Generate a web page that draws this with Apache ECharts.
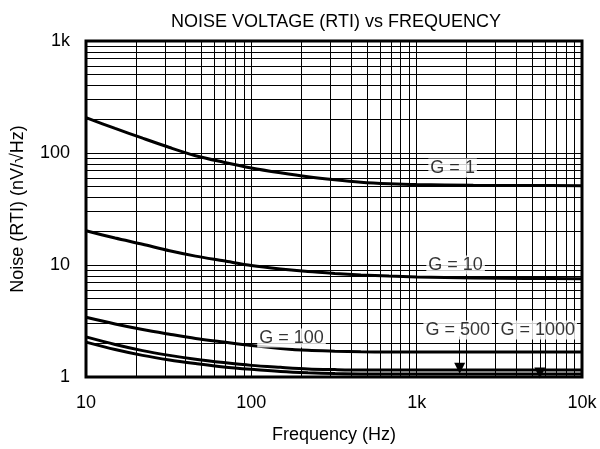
<!DOCTYPE html>
<html>
<head>
<meta charset="utf-8">
<script src="https://cdn.jsdelivr.net/npm/echarts@6/dist/echarts.min.js"></script>
<style>
  html, body { margin: 0; padding: 0; background: #fff; }
  #main { width: 600px; height: 449px; }
</style>
</head>
<body>
<div id="main"></div>
<script>
// frequency points (Hz)
const freq = [10, 15, 22, 32, 46, 68, 100, 150, 220, 320, 460, 680, 1000, 2200, 4600, 10000]
// noise RTI (nV/rtHz) per gain
const g1 = [206.6, 165.8, 135.6, 112.0, 94.6, 82.8, 73.6, 66.6, 61.3, 57.6, 54.9, 53.2, 52.2, 51.5, 51.2, 51.1]
const g10 = [20.2, 17.4, 15.3, 13.4, 12.0, 10.9, 9.9, 9.21, 8.73, 8.4, 8.14, 7.96, 7.82, 7.67, 7.59, 7.55]
const g100 = [3.41, 2.97, 2.65, 2.41, 2.21, 2.05, 1.91, 1.8, 1.73, 1.7, 1.68, 1.67, 1.67, 1.67, 1.67, 1.67]
const g500 = [2.28, 1.95, 1.72, 1.56, 1.44, 1.345, 1.27, 1.22, 1.18, 1.164, 1.155, 1.155, 1.155, 1.155, 1.155, 1.155]
const g1000 = [2.05, 1.76, 1.56, 1.42, 1.32, 1.23, 1.17, 1.12, 1.09, 1.072, 1.064, 1.064, 1.064, 1.064, 1.064, 1.064]

const xTickLabels = { 10: '10', 100: '100', 1000: '1k', 10000: '10k' }
const yTickLabels = { 1: '1', 10: '10', 100: '100', 1000: '1k' }

// curve labels
const gainLabels = ['G = 1', 'G = 10', 'G = 100', 'G = 500', 'G = 1000']
const labelFreq = [1650, 1720, 175, 1770, 5400]
const labelNoise = [73.5, 10, 2.23, 2.63, 2.63]

// arrows pointing to G=500 / G=1000
const arrowFreq = [1820, 5560]
const arrowFrom = [2.3, 2.3]
const arrowTo = [1.2, 1.085]

const font = 'Liberation Sans, Arial, sans-serif'

const chartDom = document.getElementById('main')
const myChart = echarts.init(chartDom)

const curve = (name, vals) => ({
  name: name,
  type: 'line',
  data: freq.map((f, i) => [f, vals[i]]),
  smooth: 0.3,
  symbol: 'none',
  lineStyle: { color: '#000', width: 3 },
  z: 5
})

const logAxis = (extra) => Object.assign({
  type: 'log',
  logBase: 10,
  axisLine: { show: false },
  axisTick: { show: false },
  splitLine: { show: true, lineStyle: { color: '#000', width: 1 } },
  minorTick: { show: false, splitNumber: 9 },
  minorSplitLine: { show: true, lineStyle: { color: '#000', width: 1 } },
  nameTextStyle: { color: '#000', fontSize: 18, fontFamily: font }
}, extra)

const option = {
  animation: false,
  backgroundColor: '#fff',
  title: {
    text: 'NOISE VOLTAGE (RTI) vs FREQUENCY',
    left: 331,
    textAlign: 'center',
    top: 8,
    textStyle: { color: '#000', fontSize: 18, fontWeight: 'normal', fontFamily: font }
  },
  grid: {
    left: 86, right: 18, top: 41, bottom: 72,
    show: true,
    borderColor: '#000',
    borderWidth: 3,
    backgroundColor: 'transparent'
  },
  xAxis: logAxis({
    min: 10,
    max: 10000,
    name: 'Frequency (Hz)',
    nameLocation: 'middle',
    nameGap: 49,
    axisLabel: {
      margin: 17,
      color: '#000',
      fontSize: 18,
      fontFamily: font,
      formatter: v => xTickLabels[v] || ''
    }
  }),
  yAxis: logAxis({
    min: 1,
    max: 1000,
    name: 'Noise (RTI) (nV/\u221AHz)',
    nameLocation: 'middle',
    nameGap: 59,
    axisLabel: {
      margin: 16,
      color: '#000',
      fontSize: 18,
      fontFamily: font,
      formatter: v => yTickLabels[v] || ''
    }
  }),
  series: [
    curve('G = 1', g1),
    curve('G = 10', g10),
    curve('G = 100', g100),
    curve('G = 500', g500),
    curve('G = 1000', g1000),
    {
      type: 'scatter',
      symbolSize: 1,
      itemStyle: { color: 'transparent' },
      silent: true,
      z: 10,
      data: gainLabels.map((t, i) => ({ name: t, value: [labelFreq[i], labelNoise[i]] })),
      label: {
        show: true,
        position: 'inside',
        formatter: p => p.name,
        color: '#000',
        fontSize: 18,
        fontFamily: font,
        backgroundColor: '#fff',
        padding: [1, 2, 0, 2]
      },
      markLine: {
        silent: true,
        symbol: ['none', 'triangle'],
        symbolSize: 11,
        label: { show: false },
        lineStyle: { color: '#000', width: 1, type: 'solid' },
        data: arrowFreq.map((f, i) => [
          { coord: [f, arrowFrom[i]] },
          { coord: [f, arrowTo[i]] }
        ])
      }
    }
  ]
}

option && myChart.setOption(option)
</script>
</body>
</html>
